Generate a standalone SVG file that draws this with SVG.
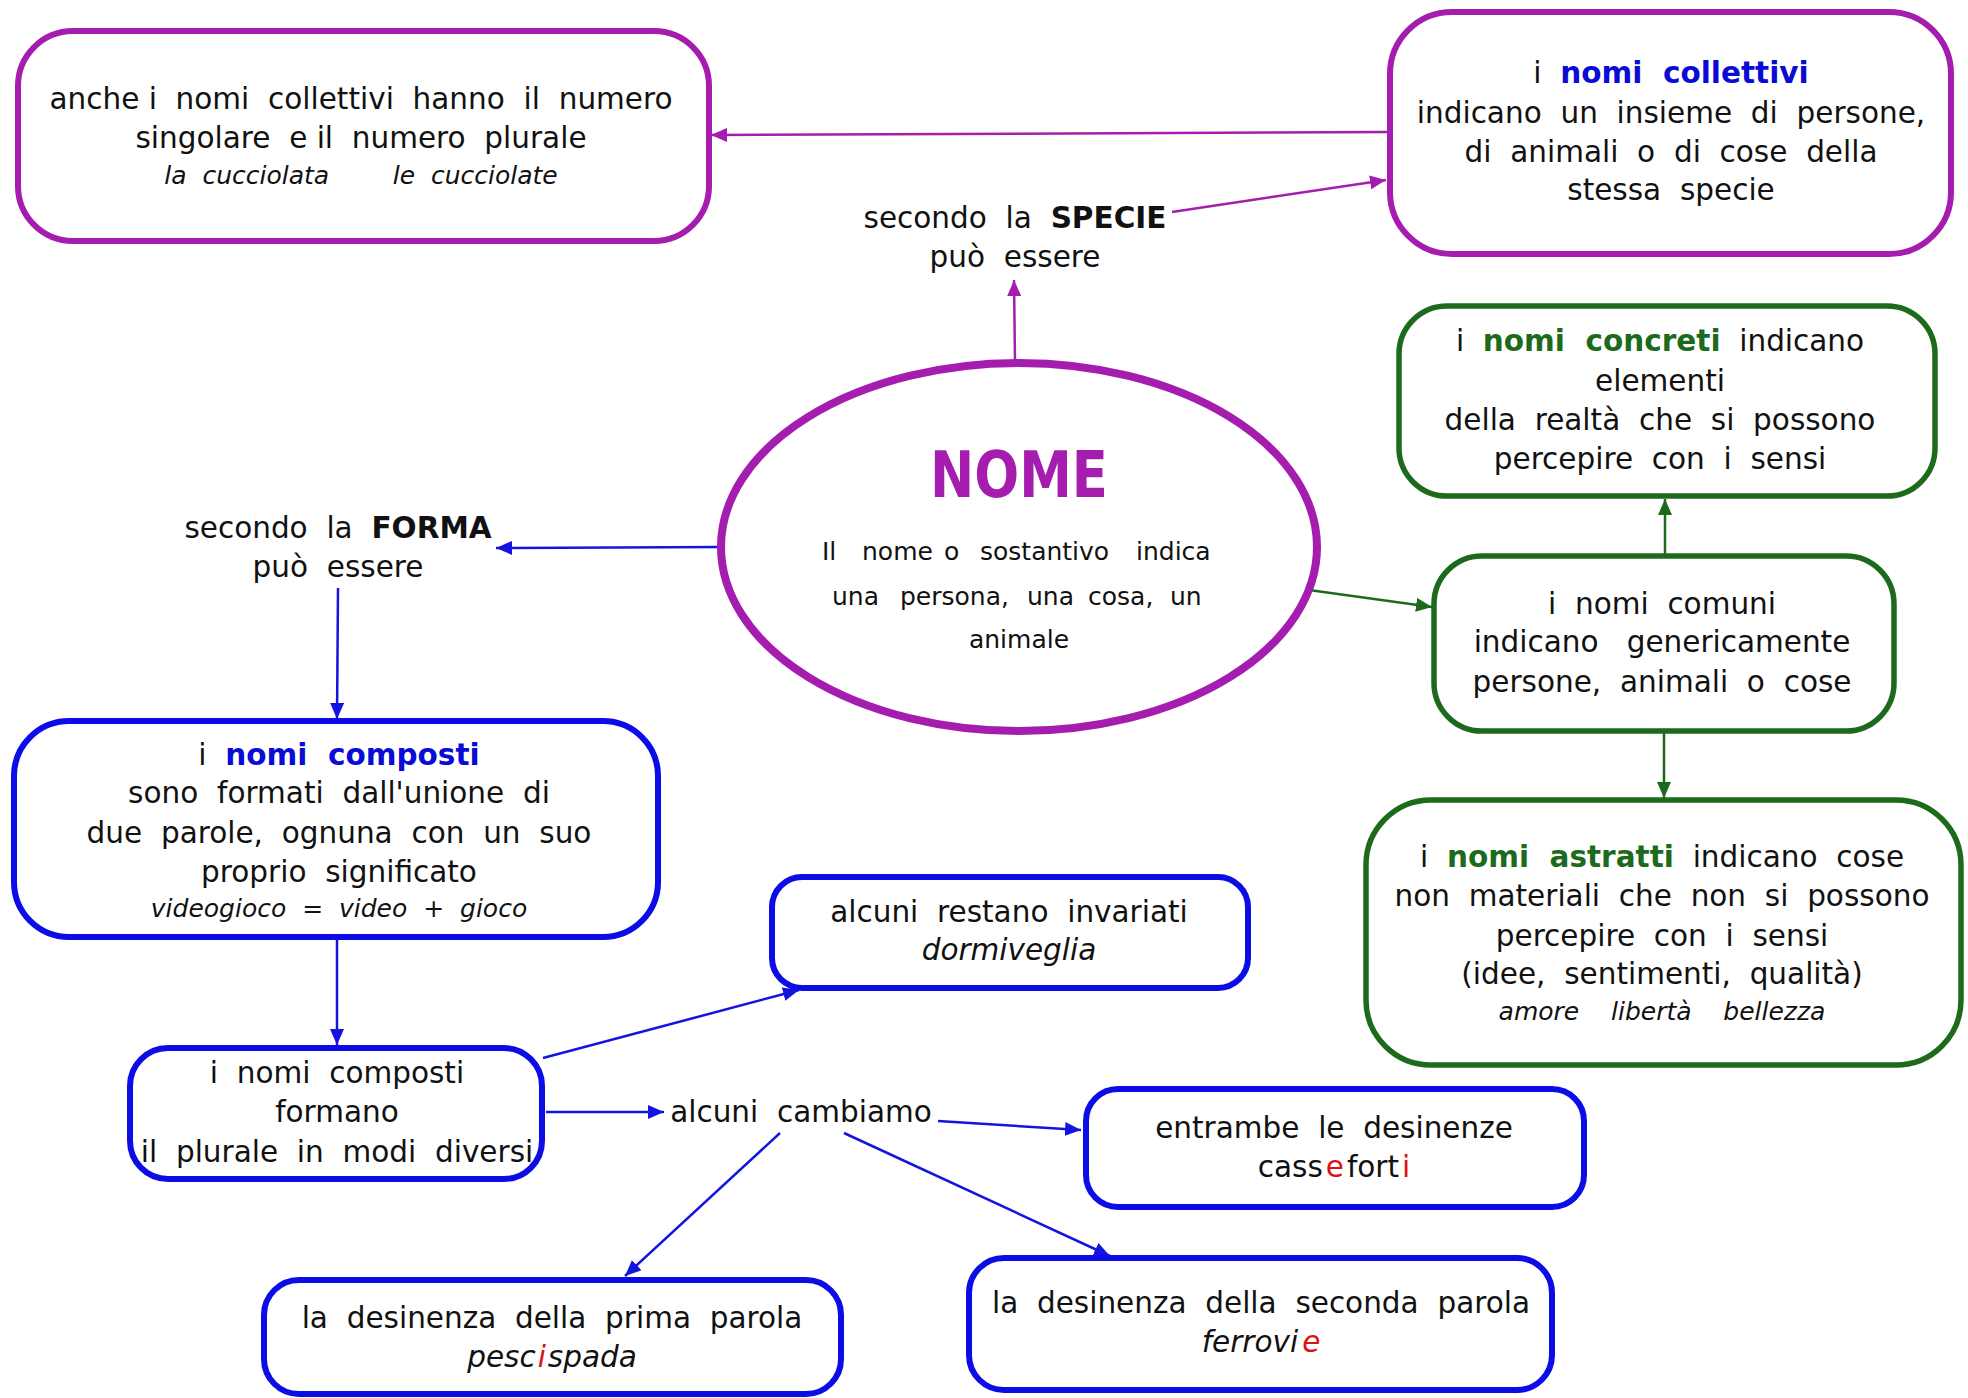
<svg xmlns="http://www.w3.org/2000/svg" width="1968" height="1398" viewBox="0 0 1968 1398">
<defs>
<style>
text{font-family:"DejaVu Sans","Liberation Sans",sans-serif;font-size:29.5px;fill:#111;text-anchor:middle;white-space:pre}
.it{font-style:italic}
.sm{font-size:25px}
.bd{font-weight:bold}
.blue{fill:#0b0bd6}
.green{fill:#1c6b1c}
.red{fill:#e01010}
.nome{font-weight:bold;font-size:64px;fill:#a51dae}
.sub{font-size:25px;text-anchor:start}
.bp{fill:#fff;stroke:#a51dae;stroke-width:6}
.bb{fill:#fff;stroke:#0c0ce6;stroke-width:6}
.bg{fill:#fff;stroke:#1d6a1d;stroke-width:5.5}
.cp{stroke:#a51dae;stroke-width:2.5;fill:none}
.cb{stroke:#1414e0;stroke-width:2.5;fill:none}
.cg{stroke:#1d6a1d;stroke-width:2.5;fill:none}
</style>
<marker id="ap" markerUnits="userSpaceOnUse" markerWidth="17" markerHeight="14" refX="16" refY="7" orient="auto"><path d="M0,0 L16,7 L0,14 z" fill="#a51dae"/></marker>
<marker id="ab" markerUnits="userSpaceOnUse" markerWidth="17" markerHeight="14" refX="16" refY="7" orient="auto"><path d="M0,0 L16,7 L0,14 z" fill="#1414e0"/></marker>
<marker id="ag" markerUnits="userSpaceOnUse" markerWidth="17" markerHeight="14" refX="16" refY="7" orient="auto"><path d="M0,0 L16,7 L0,14 z" fill="#1d6a1d"/></marker>
</defs>
<rect x="0" y="0" width="1968" height="1398" fill="#fff"/>

<g id="connectors">
<line class="cp" x1="1389" y1="132" x2="711" y2="135" marker-end="url(#ap)"/>
<line class="cp" x1="1172" y1="212" x2="1386" y2="180" marker-end="url(#ap)"/>
<line class="cp" x1="1015" y1="362" x2="1014" y2="280" marker-end="url(#ap)"/>
<line class="cb" x1="722" y1="547" x2="496" y2="548" marker-end="url(#ab)"/>
<line class="cb" x1="338" y1="588" x2="337" y2="719" marker-end="url(#ab)"/>
<line class="cb" x1="337" y1="940" x2="337" y2="1045" marker-end="url(#ab)"/>
<line class="cb" x1="543" y1="1058" x2="799" y2="990" marker-end="url(#ab)"/>
<line class="cb" x1="546" y1="1112" x2="664" y2="1112" stroke-width="3" marker-end="url(#ab)"/>
<line class="cb" x1="938" y1="1121" x2="1081" y2="1130" marker-end="url(#ab)"/>
<line class="cb" x1="780" y1="1133" x2="625" y2="1276" marker-end="url(#ab)"/>
<line class="cb" x1="844" y1="1133" x2="1110" y2="1256" marker-end="url(#ab)"/>
<line class="cg" x1="1309" y1="590" x2="1432" y2="607" marker-end="url(#ag)"/>
<line class="cg" x1="1665" y1="555" x2="1665" y2="499" marker-end="url(#ag)"/>
<line class="cg" x1="1664" y1="733" x2="1664" y2="798" marker-end="url(#ag)"/>
</g>

<g id="node-collettivi-numero">
<rect class="bp" x="18" y="31" width="691" height="210" rx="55"/>
<text x="361" y="109">anche i  nomi  collettivi  hanno  il  numero</text>
<text x="361" y="148">singolare  e il  numero  plurale</text>
<text class="it sm" x="361" y="184">la  cucciolata        le  cucciolate</text>
</g>

<g id="node-collettivi">
<rect class="bp" x="1390" y="12" width="561" height="242" rx="62"/>
<text x="1671" y="83">i  <tspan class="bd blue">nomi  collettivi</tspan></text>
<text x="1671" y="123">indicano  un  insieme  di  persone,</text>
<text x="1671" y="162">di  animali  o  di  cose  della</text>
<text x="1671" y="200">stessa  specie</text>
</g>

<g id="node-specie">
<text x="1015" y="228">secondo  la  <tspan class="bd">SPECIE</tspan></text>
<text x="1015" y="267">può  essere</text>
</g>

<g id="node-nome">
<ellipse cx="1019" cy="547" rx="298" ry="184" fill="#fff" stroke="#a51dae" stroke-width="8"/>
<text class="nome" x="1019" y="497" textLength="178" lengthAdjust="spacingAndGlyphs">NOME</text>
<text class="sub" y="560"><tspan x="822">Il</tspan><tspan x="862">nome</tspan><tspan x="944">o</tspan><tspan x="980">sostantivo</tspan><tspan x="1136">indica</tspan></text>
<text class="sub" y="605"><tspan x="832">una</tspan><tspan x="900">persona,</tspan><tspan x="1027">una</tspan><tspan x="1088">cosa,</tspan><tspan x="1170">un</tspan></text>
<text style="font-size:25px" x="1019" y="648">animale</text>
</g>

<g id="node-forma">
<text x="338" y="538">secondo  la  <tspan class="bd">FORMA</tspan></text>
<text x="338" y="577">può  essere</text>
</g>

<g id="node-composti">
<rect class="bb" x="14" y="721" width="644" height="216" rx="55"/>
<text x="339" y="765">i  <tspan class="bd blue">nomi  composti</tspan></text>
<text x="339" y="803">sono  formati  dall'unione  di</text>
<text x="339" y="843">due  parole,  ognuna  con  un  suo</text>
<text x="339" y="882">proprio  significato</text>
<text class="it sm" x="339" y="917">videogioco  =  video  +  gioco</text>
</g>

<g id="node-plurale">
<rect class="bb" x="130" y="1048" width="412" height="131" rx="38"/>
<text x="337" y="1083">i  nomi  composti</text>
<text x="337" y="1122">formano</text>
<text x="337" y="1162">il  plurale  in  modi  diversi</text>
</g>

<g id="node-invariati">
<rect class="bb" x="772" y="877" width="476" height="111" rx="30"/>
<text x="1009" y="922">alcuni  restano  invariati</text>
<text class="it" x="1009" y="960">dormiveglia</text>
</g>

<g id="node-cambiamo">
<text x="801" y="1122">alcuni  cambiamo</text>
</g>

<g id="node-entrambe">
<rect class="bb" x="1086" y="1089" width="498" height="118" rx="32"/>
<text x="1334" y="1138">entrambe  le  desinenze</text>
<text x="1334" y="1177">cass<tspan class="red" dx="3">e</tspan><tspan dx="3">fort</tspan><tspan class="red" dx="3">i</tspan></text>
</g>

<g id="node-prima">
<rect class="bb" x="264" y="1280" width="577" height="114" rx="35"/>
<text x="552" y="1328">la  desinenza  della  prima  parola</text>
<text class="it" x="552" y="1367">pesc<tspan class="red" dx="2">i</tspan><tspan dx="2">spada</tspan></text>
</g>

<g id="node-seconda">
<rect class="bb" x="969" y="1258" width="583" height="132" rx="35"/>
<text x="1261" y="1313">la  desinenza  della  seconda  parola</text>
<text class="it" x="1261" y="1352">ferrovi<tspan class="red" dx="4">e</tspan></text>
</g>

<g id="node-concreti">
<rect class="bg" x="1399" y="306" width="536" height="190" rx="48"/>
<text x="1660" y="351">i  <tspan class="bd green">nomi  concreti</tspan>  indicano</text>
<text x="1660" y="391">elementi</text>
<text x="1660" y="430">della  realtà  che  si  possono</text>
<text x="1660" y="469">percepire  con  i  sensi</text>
</g>

<g id="node-comuni">
<rect class="bg" x="1434" y="556" width="460" height="175" rx="48"/>
<text x="1662" y="614">i  nomi  comuni</text>
<text x="1662" y="652">indicano   genericamente</text>
<text x="1662" y="692">persone,  animali  o  cose</text>
</g>

<g id="node-astratti">
<rect class="bg" x="1366" y="800" width="595" height="265" rx="65"/>
<text x="1662" y="867">i  <tspan class="bd green">nomi  astratti</tspan>  indicano  cose</text>
<text x="1662" y="906">non  materiali  che  non  si  possono</text>
<text x="1662" y="946">percepire  con  i  sensi</text>
<text x="1662" y="984">(idee,  sentimenti,  qualità)</text>
<text class="it sm" x="1662" y="1020">amore    libertà    bellezza</text>
</g>
</svg>
